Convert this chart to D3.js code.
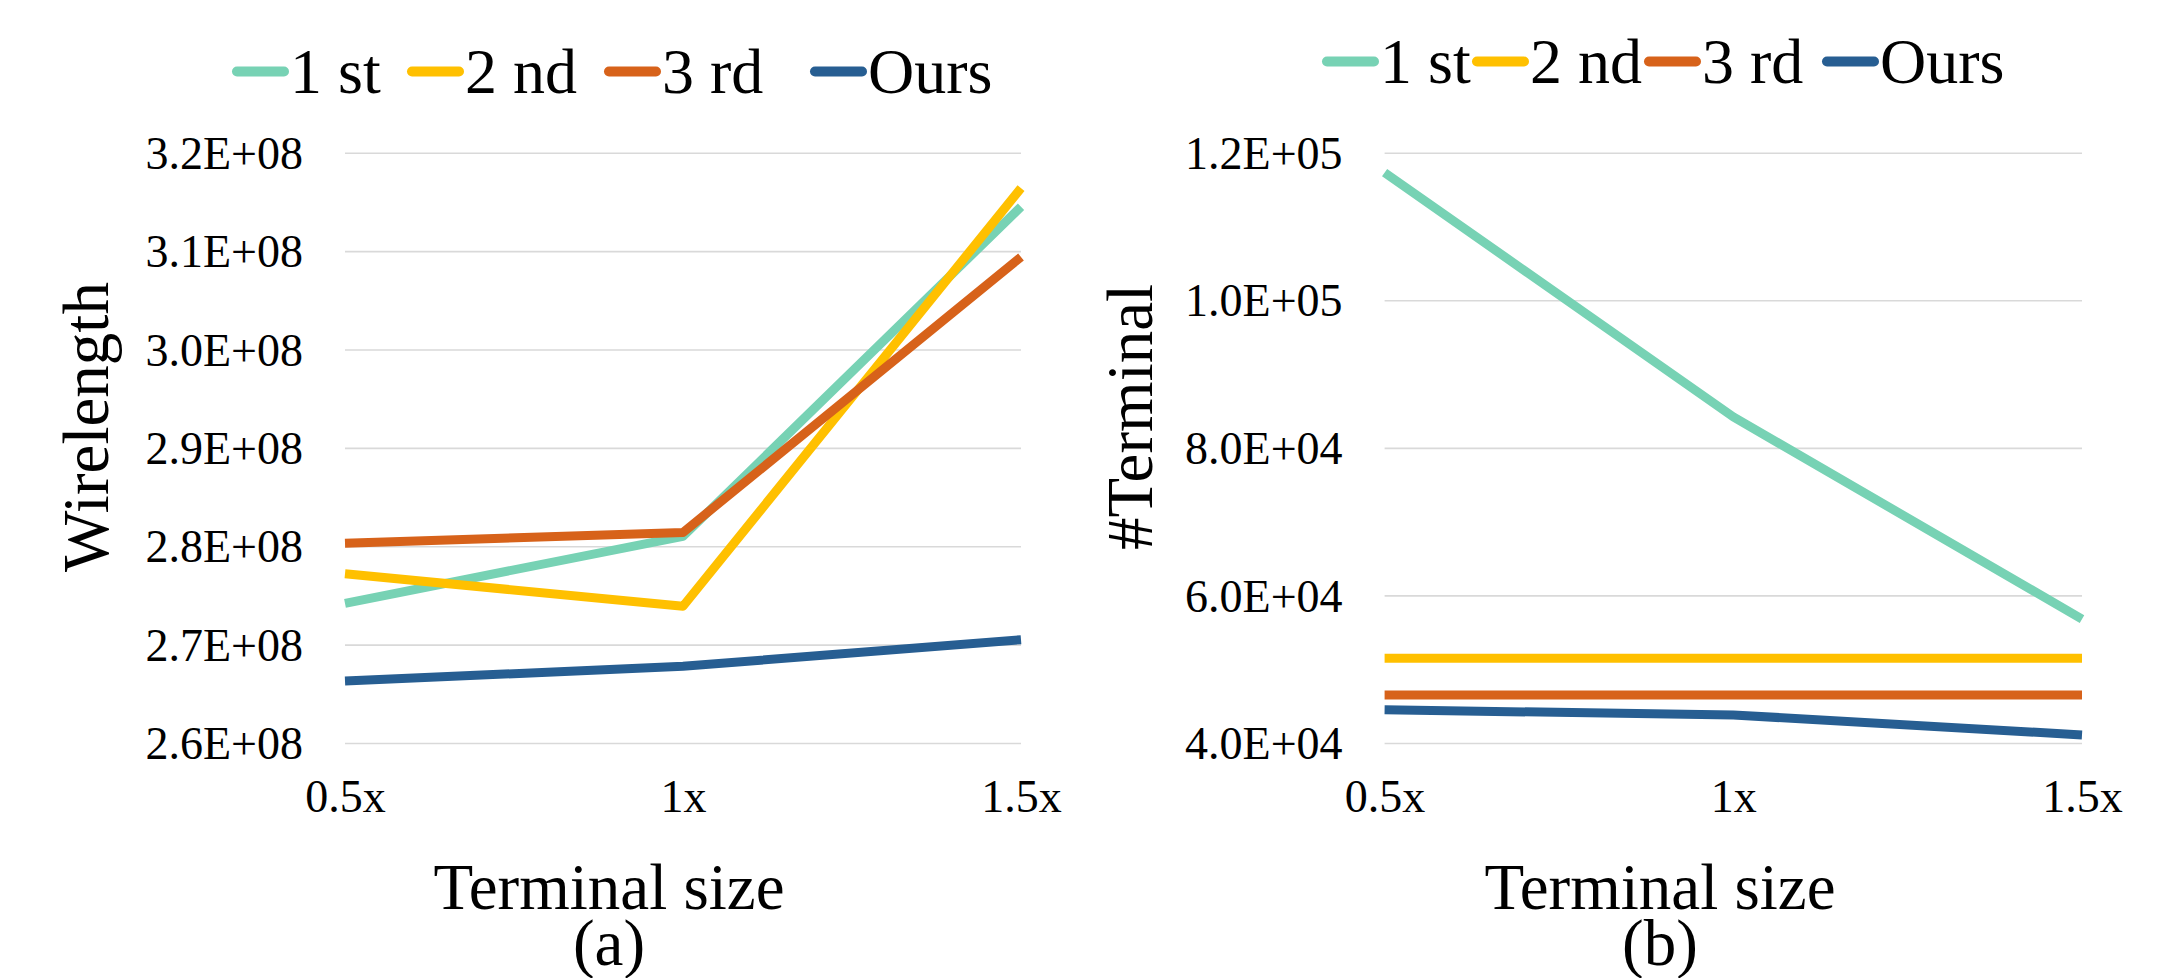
<!DOCTYPE html>
<html>
<head>
<meta charset="utf-8">
<script src="https://cdn.jsdelivr.net/npm/d3@7/dist/d3.min.js"></script>
<style>
  html, body { margin: 0; padding: 0; background: #ffffff; }
  svg { display: block; }
  text { font-family: "Liberation Serif", "Times New Roman", serif; fill: #000; }
</style>
</head>
<body>
<svg id="chart" width="2170" height="978"></svg>
<script>
// ---------------- DATA ----------------
const categories = ["0.5x", "1x", "1.5x"];
const seriesNames = ["1 st", "2 nd", "3 rd", "Ours"];
const seriesColors = ["#77D2B4", "#FFC000", "#D7621A", "#275E92"];

// (a) Wirelength
const wlFirst  = [2.742e8, 2.810e8, 3.145e8];
const wlSecond = [2.772e8, 2.739e8, 3.164e8];
const wlThird  = [2.803e8, 2.814e8, 3.094e8];
const wlOurs   = [2.663e8, 2.678e8, 2.705e8];
const wlTicks  = [2.6e8, 2.7e8, 2.8e8, 2.9e8, 3.0e8, 3.1e8, 3.2e8];
const wlTickLabels = ["2.6E+08", "2.7E+08", "2.8E+08", "2.9E+08", "3.0E+08", "3.1E+08", "3.2E+08"];

// (b) #Terminal
const tmFirst  = [117300, 84200, 56800];
const tmSecond = [51500, 51500, 51500];
const tmThird  = [46500, 46500, 46500];
const tmOurs   = [44500, 43800, 41100];
const tmTicks  = [40000, 60000, 80000, 100000, 120000];
const tmTickLabels = ["4.0E+04", "6.0E+04", "8.0E+04", "1.0E+05", "1.2E+05"];

const xTitle = "Terminal size";

// ---------------- LAYOUT ----------------
const svg = d3.select("#chart");
svg.append("rect").attr("width", 2170).attr("height", 978).attr("fill", "#fff");
const serif = "'Liberation Serif', 'Times New Roman', serif";

function drawPanel(cfg) {
  const g = svg.append("g");
  const x = d3.scalePoint().domain(categories).range([cfg.x0, cfg.x1]).padding(0);
  const y = d3.scaleLinear().domain(cfg.domain).range([cfg.yBottom, cfg.yTop]);

  // gridlines + y tick labels
  const yAxis = d3.axisLeft(y)
    .tickValues(cfg.ticks)
    .tickSize(-(cfg.x1 - cfg.x0))
    .tickPadding(42)
    .tickFormat((d, i) => cfg.tickLabels[i]);
  const ya = g.append("g").attr("transform", `translate(${cfg.x0},0)`).call(yAxis);
  ya.select(".domain").remove();
  ya.selectAll(".tick line").attr("stroke", "#D9D9D9").attr("stroke-width", 1.6);
  ya.selectAll(".tick text")
    .style("font-family", serif)
    .style("font-size", "46px")
    .attr("fill", "#000")
    .attr("dy", "0.34em");

  // x tick labels
  const xAxis = d3.axisBottom(x).tickSize(0);
  const xa = g.append("g").attr("transform", `translate(0,${cfg.yBottom})`).call(xAxis);
  xa.select(".domain").remove();
  xa.selectAll(".tick text")
    .style("font-family", serif)
    .style("font-size", "46px")
    .attr("fill", "#000")
    .attr("dy", null)
    .attr("y", 69);

  // lines
  const line = d3.line().x((d, i) => x(categories[i])).y(d => y(d));
  cfg.series.forEach((vals, k) => {
    g.append("path")
      .datum(vals)
      .attr("d", line)
      .attr("fill", "none")
      .attr("stroke", seriesColors[k])
      .attr("stroke-width", 9)
      .attr("stroke-linejoin", "round")
      .attr("stroke-linecap", "butt");
  });

  // y title
  g.append("text")
    .attr("transform", `translate(${cfg.yTitleX},${cfg.yTitleY}) rotate(-90)`)
    .attr("text-anchor", "middle")
    .style("font-size", "65px")
    .text(cfg.yTitle);

  // x title + panel label (two-line caption)
  const cap = g.append("text")
    .attr("text-anchor", "middle")
    .style("font-size", "65px");
  cap.append("tspan").attr("x", cfg.xTitleX).attr("y", 909).text(xTitle);
  cap.append("tspan").attr("x", cfg.xTitleX).attr("y", 965).text(cfg.panelLabel);

  // legend
  const lg = g.append("g");
  seriesNames.forEach((name, k) => {
    const lx = cfg.legendX[k];
    lg.append("line")
      .attr("x1", lx + 5).attr("x2", lx + 52)
      .attr("y1", cfg.legendY - 21.5).attr("y2", cfg.legendY - 21.5)
      .attr("stroke", seriesColors[k])
      .attr("stroke-width", 10)
      .attr("stroke-linecap", "round");
    lg.append("text")
      .attr("x", lx + 58).attr("y", cfg.legendY)
      .style("font-size", "64px")
      .text(name);
  });
}

drawPanel({
  x0: 345, x1: 1021, yTop: 152.7, yBottom: 743,
  domain: [2.6e8, 3.2e8], ticks: wlTicks, tickLabels: wlTickLabels,
  series: [wlFirst, wlSecond, wlThird, wlOurs],
  yTitle: "Wirelength", yTitleX: 108, yTitleY: 427,
  xTitleX: 609, panelLabel: "(a)",
  legendX: [232, 407, 604, 810], legendY: 93
});

drawPanel({
  x0: 1384.6, x1: 2082, yTop: 152.7, yBottom: 743,
  domain: [40000, 120000], ticks: tmTicks, tickLabels: tmTickLabels,
  series: [tmFirst, tmSecond, tmThird, tmOurs],
  yTitle: "#Terminal", yTitleX: 1152, yTitleY: 417,
  xTitleX: 1660, panelLabel: "(b)",
  legendX: [1322, 1472, 1644, 1822], legendY: 83
});
</script>
</body>
</html>
